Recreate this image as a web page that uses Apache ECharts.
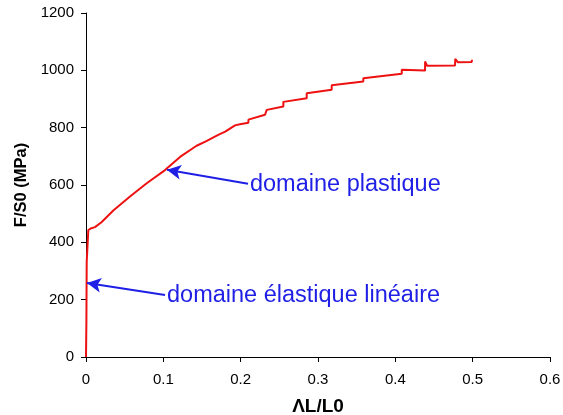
<!DOCTYPE html>
<html>
<head>
<meta charset="utf-8">
<script src="https://cdn.jsdelivr.net/npm/echarts@6/dist/echarts.min.js"></script>
<style>
  html, body { margin: 0; padding: 0; background: #fff; }
  #chart { width: 563px; height: 415px; }
</style>
</head>
<body>
<div id="chart"></div>
<script>
// strain ΔL/L0 and stress F/S0 (MPa)
const strain = [
  0, 0.0005, 0.0009, 0.0026, 0.003, 0.006, 0.0116, 0.02, 0.0353, 0.0569,
  0.0785, 0.1022, 0.1216, 0.143, 0.155, 0.156, 0.171, 0.18, 0.181, 0.1927,
  0.199, 0.210, 0.210, 0.2315, 0.2337, 0.2552, 0.2552, 0.2854, 0.2854, 0.3177,
  0.3177, 0.3586, 0.3586, 0.4083, 0.4083, 0.4384, 0.4385, 0.441, 0.4772, 0.4775,
  0.481, 0.4988, 0.4991
];
const stress = [
  0, 120, 332, 336, 443, 448, 453, 470, 511, 560,
  606, 652, 698, 737, 752, 758, 775, 786, 792, 808,
  812, 817, 828, 845, 862, 874, 890, 903, 920, 932,
  948, 961, 972, 988, 1002, 999, 1031, 1016, 1017, 1040,
  1028, 1029, 1037
];

// annotations: text, tail [x, y], arrow tip [x, y]
const notes = ["domaine plastique", "domaine élastique linéaire"];
const noteTail = [[0.2095, 604], [0.1022, 216]];
const noteTip = [[0.1047, 653], [0.0013, 258]];

const xTicks = { min: 0, max: 0.6, interval: 0.1 };
const yTicks = { min: 0, max: 1200, interval: 200 };

const chart = echarts.init(document.getElementById("chart"));
const font = "'Liberation Sans', Arial, sans-serif";
const blue = "#1f1fe6";

const option = {
  animation: false,
  grid: { left: 86, right: 13, top: 13, bottom: 58, outerBoundsMode: "none" },
  xAxis: {
    type: "value",
    min: xTicks.min,
    max: xTicks.max,
    interval: xTicks.interval,
    name: "ΛL/L0",
    nameLocation: "middle",
    nameGap: 40,
    nameTextStyle: { fontFamily: font, fontSize: 19, fontWeight: "bold", color: "#000" },
    axisLine: { lineStyle: { color: "#000", width: 1 } },
    axisTick: { show: true, length: 5, lineStyle: { color: "#000" } },
    axisLabel: { color: "#000", fontFamily: font, fontSize: 15, margin: 15,
      formatter: v => String(+v.toFixed(1)) },
    splitLine: { show: false }
  },
  yAxis: {
    type: "value",
    min: yTicks.min,
    max: yTicks.max,
    interval: yTicks.interval,
    name: "F/S0 (MPa)",
    nameLocation: "middle",
    nameGap: 53,
    nameTextStyle: { fontFamily: font, fontSize: 16.5, fontWeight: "bold", color: "#000" },
    axisLine: { show: true, lineStyle: { color: "#000", width: 1 } },
    axisTick: { show: true, length: 5, lineStyle: { color: "#000" } },
    axisLabel: { color: "#000", fontFamily: font, fontSize: 15, margin: 12,
      formatter: v => String(v) },
    splitLine: { show: false }
  },
  series: [{
    type: "line",
    data: strain.map((x, i) => [x, stress[i]]),
    showSymbol: false,
    lineStyle: { color: "#ee1111", width: 2 },
    markLine: {
      silent: true,
      symbol: ["none", "arrow"],
      symbolSize: [11, 14],
      lineStyle: { color: blue, width: 2, type: "solid" },
      label: {
        show: true,
        position: "start",
        distance: 2,
        color: blue,
        fontFamily: font,
        fontSize: 23.5,
        formatter: p => p.name
      },
      data: notes.map((n, i) => [
        { name: n, coord: noteTail[i] },
        { coord: noteTip[i] }
      ])
    }
  }]
};
chart.setOption(option);
window.addEventListener("resize", () => chart.resize());
</script>
</body>
</html>
